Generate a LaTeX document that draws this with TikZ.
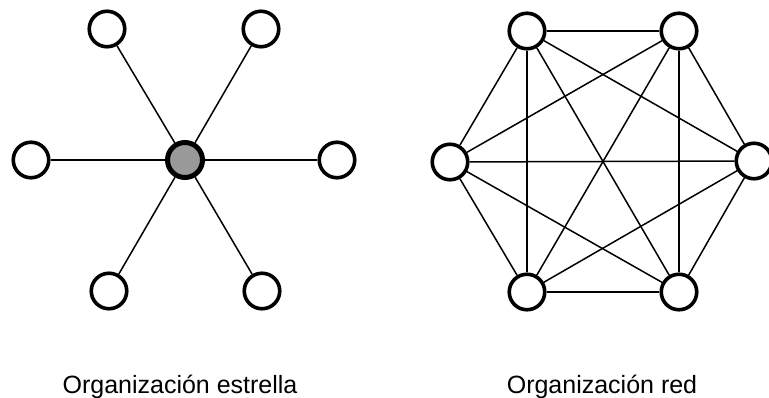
\documentclass[tikz,border=0pt]{standalone}
\usepackage{fontspec}
\setmainfont{Liberation Sans}
\begin{document}
\begin{tikzpicture}[x=1pt,y=-1pt,
  member/.style={circle,draw,line width=3.6pt,minimum size=35.5pt,inner sep=0pt,fill=white},
  hub/.style={member,line width=5pt,minimum size=35pt,fill=black!40},
  link/.style={line width=1.5pt},
  caption/.style={anchor=base,inner sep=0pt,font=\fontsize{25}{30}\selectfont}]
\useasboundingbox (0,0) rectangle (769,398);

% star organisation
\node[hub]    (c)  at (185,160) {};
\node[member] (s1) at (107,29)  {};
\node[member] (s2) at (261,29)  {};
\node[member] (s3) at (31,160)  {};
\node[member] (s4) at (337,160) {};
\node[member] (s5) at (109,291) {};
\node[member] (s6) at (262,291) {};
\foreach \s in {s1,s2,s3,s4,s5,s6}
  \draw[link] (c) -- (\s);

% network organisation: every pair connected
\node[member] (n1) at (527,31)  {};
\node[member] (n2) at (679,31)  {};
\node[member] (n3) at (754,161) {};
\node[member] (n4) at (679,292) {};
\node[member] (n5) at (527,292) {};
\node[member] (n6) at (450,162) {};
\foreach \a/\b in {n1/n2,n1/n3,n1/n4,n1/n5,n1/n6,
                   n2/n3,n2/n4,n2/n5,n2/n6,
                   n3/n4,n3/n5,n3/n6,
                   n4/n5,n4/n6,
                   n5/n6}
  \draw[link] (\a) -- (\b);

% captions
\node[caption] (cs) at (180,393) {Organización estrella};
\node[caption] (cn) at (602,393) {Organización red};
\end{tikzpicture}
\end{document}
